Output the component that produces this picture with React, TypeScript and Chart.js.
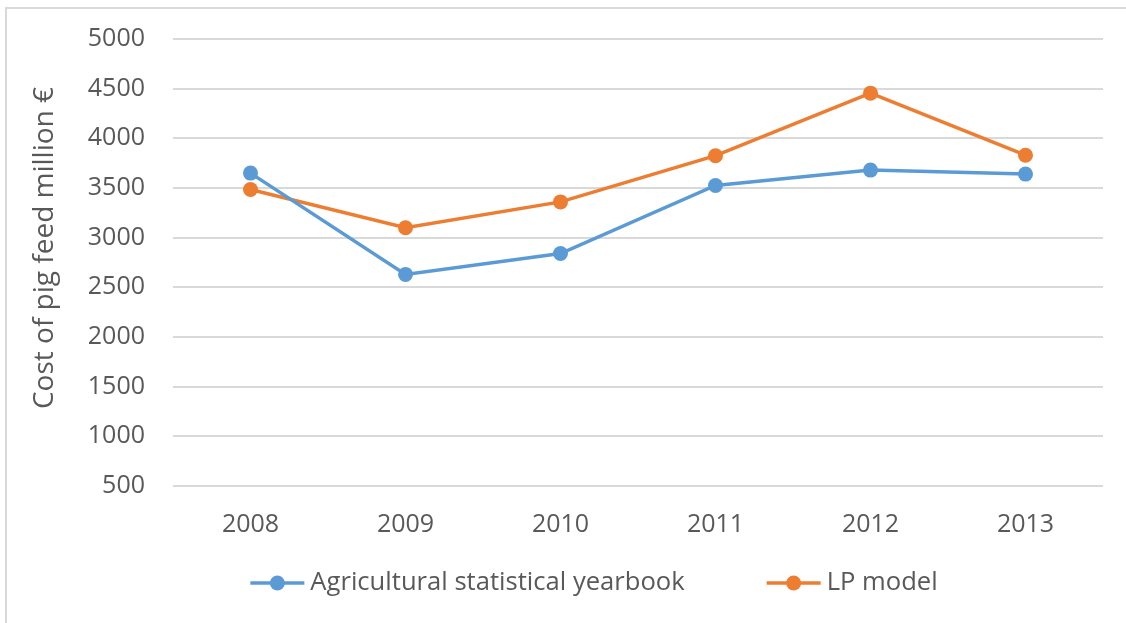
import React, { useEffect, useRef } from "react";
import { Chart, registerables } from "chart.js";

Chart.register(...registerables);

const categories = ["2008", "2009", "2010", "2011", "2012", "2013"];
const yearbookValues = [3650, 2630, 2840, 3525, 3680, 3640];
const lpModelValues = [3485, 3100, 3360, 3825, 4455, 3830];
const seriesNames = ["Agricultural statistical yearbook", "LP model"];
const seriesColors = ["#5b9bd5", "#ed7d31"];
const yAxisTitle = "Cost of pig feed million €";
const yMin = 500;
const yMax = 5000;
const yStep = 500;

const FONT = "'Open Sans', sans-serif";
const TEXT = "#595959";
const FS = 25;
const LEGEND_FS = 25.6;
const TITLE_FS = 28;

const customPlugin = {
  id: "customLegendTitle",
  afterDraw(chart: any) {
    const ctx = chart.ctx as CanvasRenderingContext2D;
    ctx.save();
    ctx.fillStyle = TEXT;
    // y-axis title
    ctx.save();
    ctx.font = `${TITLE_FS}px ${FONT}`;
    ctx.translate(45, 248);
    ctx.rotate(-Math.PI / 2);
    ctx.textAlign = "center";
    ctx.textBaseline = "middle";
    ctx.fillText(yAxisTitle, 0, 0);
    ctx.restore();
    // legend
    ctx.font = `${LEGEND_FS}px ${FONT}`;
    const segW = 54;
    const textGap = 6;
    const itemGap = 82;
    const widths = seriesNames.map((n) => segW + textGap + ctx.measureText(n).width);
    const total = widths.reduce((a, b) => a + b, 0) + itemGap * (seriesNames.length - 1);
    let x = 594 - total / 2;
    const y = 583;
    seriesNames.forEach((name, i) => {
      ctx.strokeStyle = seriesColors[i];
      ctx.lineWidth = 3.5;
      ctx.beginPath();
      ctx.moveTo(x, y);
      ctx.lineTo(x + segW, y);
      ctx.stroke();
      ctx.fillStyle = seriesColors[i];
      ctx.beginPath();
      ctx.arc(x + segW / 2, y, 7.5, 0, Math.PI * 2);
      ctx.fill();
      ctx.fillStyle = TEXT;
      ctx.textAlign = "left";
      ctx.textBaseline = "middle";
      ctx.fillText(name, x + segW + textGap, y);
      x += widths[i] + itemGap;
    });
    ctx.restore();
  },
};

export default function App() {
  const canvasRef = useRef<HTMLCanvasElement>(null);

  useEffect(() => {
    document.body.style.margin = "0";
    document.body.style.overflow = "hidden";
    const canvas = canvasRef.current;
    if (!canvas) return;
    const makeDs = (label: string, data: number[], color: string) => ({
      label,
      data,
      borderColor: color,
      backgroundColor: color,
      borderWidth: 3.5,
      pointRadius: 7.5,
      pointHoverRadius: 7.5,
      pointBackgroundColor: color,
      pointBorderWidth: 0,
      tension: 0,
    });
    const chart = new Chart(canvas, {
      type: "line",
      data: {
        labels: categories,
        datasets: [
          makeDs(seriesNames[0], yearbookValues, seriesColors[0]),
          makeDs(seriesNames[1], lpModelValues, seriesColors[1]),
        ],
      },
      options: {
        responsive: false,
        animation: false,
        devicePixelRatio: 1,
        layout: { padding: { top: 39, right: 23, left: 0, bottom: 0 } },
        plugins: {
          legend: { display: false },
          tooltip: { enabled: false },
        },
        scales: {
          x: {
            offset: true,
            grid: { display: false, drawTicks: false },
            border: { display: false },
            ticks: { color: TEXT, font: { family: FONT, size: FS }, padding: 24, maxRotation: 0 },
            afterFit: (s: any) => {
              s.height = 137;
              s.paddingLeft = 0;
              s.paddingRight = 0;
            },
          },
          y: {
            min: yMin,
            max: yMax,
            ticks: {
              stepSize: yStep,
              color: TEXT,
              font: { family: FONT, size: FS },
              padding: 28,
              callback: (v: any) => String(v),
            },
            grid: { color: "#d9d9d9", lineWidth: 2, drawTicks: false },
            border: { display: false },
            afterFit: (s: any) => {
              s.width = 173;
              s.paddingTop = 0;
              s.paddingBottom = 0;
            },
          },
        },
      },
      plugins: [customPlugin],
    } as any);
    return () => chart.destroy();
  }, []);

  return (
    <div style={{ position: "absolute", left: 0, top: 0, width: 1126, height: 623, overflow: "hidden", background: "#fff" }}>
      <canvas ref={canvasRef} width={1126} height={623} style={{ position: "absolute", left: 0, top: 0 }} />
      <div
        style={{
          position: "absolute",
          left: 5,
          top: 7,
          width: 1300,
          height: 800,
          borderLeft: "2px solid #d9d9d9",
          borderTop: "2px solid #d9d9d9",
          pointerEvents: "none",
        }}
      />
    </div>
  );
}
